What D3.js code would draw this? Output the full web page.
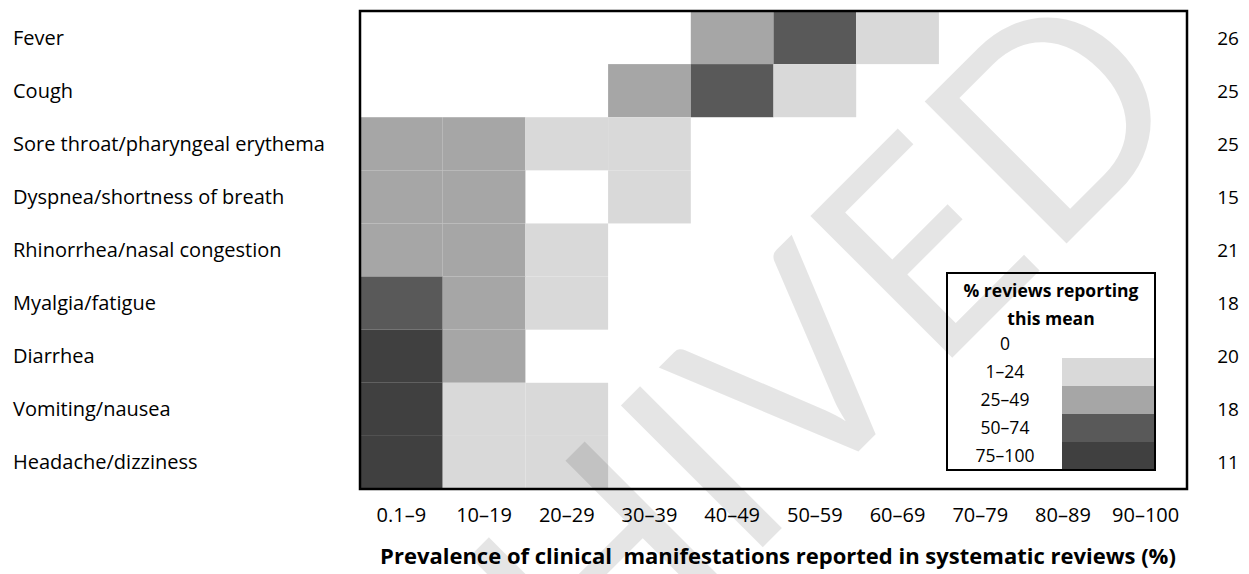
<!DOCTYPE html>
<html>
<head>
<meta charset="utf-8">
<script src="https://cdn.jsdelivr.net/npm/d3@7"></script>
<style>
  html, body { margin: 0; padding: 0; background: #fff; }
  svg { display: block; }
  text { font-family: "Open Sans", Lato, sans-serif; fill: #000; }
</style>
</head>
<body>
<svg id="chart" width="1249" height="574"></svg>
<script>
// ---- data ----
const symptoms = [
  "Fever", "Cough", "Sore throat/pharyngeal erythema", "Dyspnea/shortness of breath",
  "Rhinorrhea/nasal congestion", "Myalgia/fatigue", "Diarrhea", "Vomiting/nausea", "Headache/dizziness"
];
const ranges = ["0.1–9", "10–19", "20–29", "30–39", "40–49", "50–59", "60–69", "70–79", "80–89", "90–100"];
const totals = [26, 25, 25, 15, 21, 18, 20, 18, 11];
// category level per symptom x range (0 = 0%, 1 = 1–24, 2 = 25–49, 3 = 50–74, 4 = 75–100)
const fever      = [0, 0, 0, 0, 2, 3, 1, 0, 0, 0];
const cough      = [0, 0, 0, 2, 3, 1, 0, 0, 0, 0];
const soreThroat = [2, 2, 1, 1, 0, 0, 0, 0, 0, 0];
const dyspnea    = [2, 2, 0, 1, 0, 0, 0, 0, 0, 0];
const rhinorrhea = [2, 2, 1, 0, 0, 0, 0, 0, 0, 0];
const myalgia    = [3, 2, 1, 0, 0, 0, 0, 0, 0, 0];
const diarrhea   = [4, 2, 0, 0, 0, 0, 0, 0, 0, 0];
const vomiting   = [4, 1, 1, 0, 0, 0, 0, 0, 0, 0];
const headache   = [4, 1, 1, 0, 0, 0, 0, 0, 0, 0];
const levelLabels = ["0", "1–24", "25–49", "50–74", "75–100"];
const levelColors = ["#ffffff", "#d9d9d9", "#a6a6a6", "#595959", "#404040"];
const legendTitle = ["% reviews reporting", "this mean"];
const xTitle = "Prevalence of clinical\u00a0 manifestations reported in systematic reviews (%)";

const matrix = [fever, cough, soreThroat, dyspnea, rhinorrhea, myalgia, diarrhea, vomiting, headache];
const cells = [];
matrix.forEach((row, i) => row.forEach((lv, j) => cells.push({ s: symptoms[i], r: ranges[j], lv })));

// ---- layout ----
const svg = d3.select("#chart");
const plot = { left: 360, right: 1187, top: 11, bottom: 489 };

const x = d3.scaleBand().domain(ranges).range([plot.left, plot.right]).padding(0);
const y = d3.scaleBand().domain(symptoms).range([plot.top, plot.bottom]).padding(0);
const color = d3.scaleOrdinal().domain(d3.range(levelColors.length)).range(levelColors);

// cells
svg.append("g").selectAll("rect")
  .data(cells.filter(d => d.lv > 0))
  .join("rect")
  .attr("x", d => x(d.r))
  .attr("y", d => y(d.s))
  .attr("width", x.bandwidth())
  .attr("height", y.bandwidth())
  .attr("fill", d => color(d.lv));

// frame
svg.append("rect")
  .attr("x", plot.left).attr("y", plot.top)
  .attr("width", plot.right - plot.left).attr("height", plot.bottom - plot.top)
  .attr("fill", "none").attr("stroke", "#000").attr("stroke-width", 2.5);

// row labels (left)
const yAxisL = d3.axisLeft(y).tickSize(0).tickPadding(0);
const gL = svg.append("g").attr("transform", "translate(13,0)").call(yAxisL);
gL.select(".domain").remove();
gL.selectAll("text").attr("text-anchor", "start").attr("x", 0).attr("dy", null).attr("y", 7)
  .style("font-size", "20px").attr("fill", "#000");

// totals (right)
const yAxisR = d3.axisRight(y).tickSize(0).tickPadding(0).tickFormat((d, i) => totals[i]);
const gR = svg.append("g").attr("transform", "translate(1228,0)").call(yAxisR);
gR.select(".domain").remove();
gR.selectAll("text").attr("text-anchor", "middle").attr("x", 0).attr("dy", null).attr("y", 7)
  .style("font-size", "19px").attr("fill", "#000");

// x tick labels
const xAxis = d3.axisBottom(x).tickSize(0).tickPadding(0);
const gX = svg.append("g").attr("transform", "translate(0,522)").call(xAxis);
gX.select(".domain").remove();
gX.selectAll("text").attr("dy", null).attr("y", 0).style("font-size", "20px").attr("fill", "#000");

// x title
svg.append("text")
  .attr("x", 778).attr("y", 564)
  .attr("text-anchor", "middle")
  .style("font-size", "22px").style("font-weight", "bold")
  .text(xTitle);

// legend
const lg = { left: 947, right: 1155, top: 273, bottom: 470, swatchX: 1062, labelX: 1005 };
const ly = d3.scaleBand().domain(levelLabels).range([330, lg.bottom]).padding(0);
const legend = svg.append("g");
legend.selectAll("rect.sw")
  .data(levelLabels.slice(1))
  .join("rect")
  .attr("class", "sw")
  .attr("x", lg.swatchX)
  .attr("y", d => ly(d))
  .attr("width", lg.right - lg.swatchX)
  .attr("height", ly.bandwidth())
  .attr("fill", (d, i) => color(i + 1));
legend.selectAll("text.lab")
  .data(levelLabels)
  .join("text")
  .attr("class", "lab")
  .attr("x", lg.labelX)
  .attr("y", d => ly(d) + ly.bandwidth() / 2 + 6)
  .attr("text-anchor", "middle")
  .style("font-size", "17.5px")
  .text(d => d);
legend.selectAll("text.ttl")
  .data(legendTitle)
  .join("text")
  .attr("class", "ttl")
  .attr("x", 1051)
  .attr("y", (d, i) => 297 + i * 28)
  .attr("text-anchor", "middle")
  .style("font-size", "17.5px").style("font-weight", "bold")
  .text(d => d);
legend.append("rect")
  .attr("x", lg.left).attr("y", lg.top)
  .attr("width", lg.right - lg.left).attr("height", lg.bottom - lg.top)
  .attr("fill", "none").attr("stroke", "#000").attr("stroke-width", 2);

// watermark
svg.append("text")
  .attr("transform", "translate(1199,111) rotate(-45)")
  .attr("text-anchor", "end")
  .style("font-family", "Lato, sans-serif")
  .style("font-size", "280px")
  .attr("fill", "#000")
  .attr("fill-opacity", 0.1)
  .text("ARCHIVED");
</script>
</body>
</html>
